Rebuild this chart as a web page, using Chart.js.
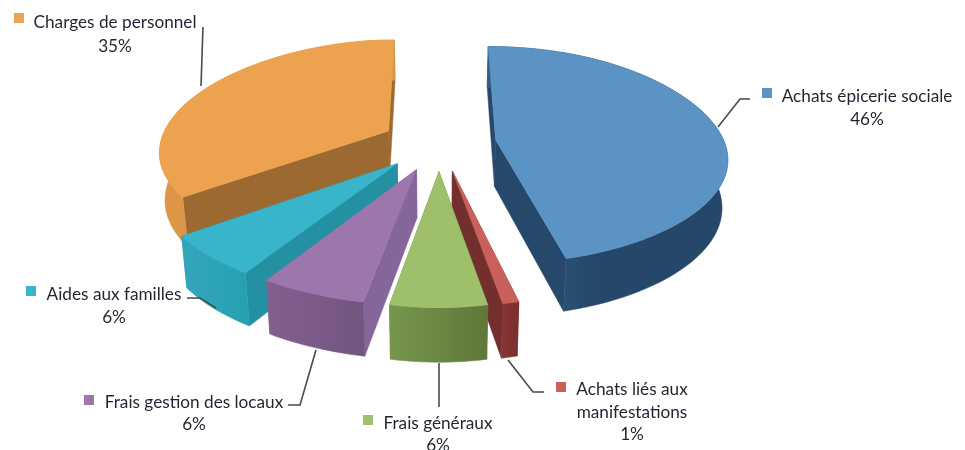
<!DOCTYPE html>
<html lang="fr">
<head>
    <meta charset="UTF-8">
    <title>Répartition des dépenses</title>
    <script src="https://cdn.jsdelivr.net/npm/chart.js"></script>
    <style>
        body, html { margin: 0; padding: 0; width: 965px; height: 450px; overflow: hidden; background: #fff; }
        canvas { filter: blur(0.6px); }
    </style>
</head>
<body>
    <canvas id="pie" width="965" height="450"></canvas>

    <script>
        const categories = ["Achats épicerie sociale", "Achats liés aux manifestations", "Frais généraux", "Frais gestion des locaux", "Aides aux familles", "Charges de personnel"];
        const percents = [46, 1, 6, 6, 6, 35];
        const explode = [0.25, 0.26, 0.26, 0.26, 0.26, 0.25];

        const topColors = ['#5b93c4', '#c9605c', '#9fc06b', '#9c77ad', '#38b4cb', '#eca24f'];
        const cutColors = ['#26496b', '#722f2d', '#617a3a', '#84669a', '#2491a3', '#9c6a30'];
        const wallLeft = ['#2f5f85', '#853534', '#76964d', '#80608f', '#33a6ba', '#dd9648'];
        const wallRight = ['#25486a', '#7a2f2e', '#5f7839', '#735582', '#27a0b2', '#dd9648'];

        // back to front
        const drawOrder = [5, 0, 1, 4, 3, 2];

        const labelBoxes = [
            { square: [762, 88], x: 867, lines: [96], pct: 119, leader: [[750, 99], [740, 99], [718, 127]] },
            { square: [556, 382], x: 632, lines: [389, 412], pct: 434, leader: [[508, 360], [533, 392], [544, 392]] },
            { square: [363, 415], x: 438, lines: [423], pct: 445, leader: [[439, 363], [439, 407]] },
            { square: [84, 395], x: 194, lines: [402], pct: 424, leader: [[288, 405], [300, 405], [316, 350]] },
            { square: [26, 286], x: 114, lines: [294], pct: 317, leader: [[187, 298], [200, 298], [216, 308]] },
            { square: [14, 13], x: 115, lines: [22], pct: 46, leader: [[203, 27], [201, 86]] }
        ];
        const wrapped = { "Achats liés aux manifestations": ["Achats liés aux", "manifestations"] };

        // tilted view of the pie plane, u to the right, v towards the viewer
        function project(u, v, low) {
            const ratio = 1 + v * (0.10 - 0.13 * Math.max(u, -0.6) + 0.18 * Math.max(0, u));
            let x = 439 + 229 * u * ratio + Math.min(v, 0);
            let y = 143 + (v < 0 ? 108 : 106) * v / (1 - 0.15 * v);
            if (low) {
                x = 439 + (x - 439) * 0.98;
                y += 47 + 6 * v;
            }
            return [x, y];
        }

        function polygon(ctx, pts) {
            ctx.beginPath();
            pts.forEach((p, i) => i ? ctx.lineTo(p[0], p[1]) : ctx.moveTo(p[0], p[1]));
            ctx.closePath();
        }

        function fillPoly(ctx, pts, color) {
            polygon(ctx, pts);
            ctx.fillStyle = color;
            ctx.strokeStyle = color;
            ctx.lineWidth = 0.5;
            ctx.fill();
            ctx.stroke();
        }

        function drawSlice(ctx, arc, i) {
            const start = arc.startAngle + Math.PI / 2;
            const end = arc.endAngle + Math.PI / 2;
            const mid = (start + end) / 2;
            const ou = explode[i] * Math.sin(mid);
            const ov = -explode[i] * Math.cos(mid);

            const rim = [];
            const steps = Math.max(2, Math.ceil((end - start) / 0.03));
            for (let s = 0; s <= steps; s++) {
                const a = start + (end - start) * s / steps;
                rim.push([ou + Math.sin(a), ov - Math.cos(a)]);
            }
            const top = rim.map(p => project(p[0], p[1], false));
            const low = rim.map(p => project(p[0], p[1], true));
            const apexTop = project(ou, ov, false);
            const apexLow = project(ou, ov, true);

            // cut faces first, the outer wall and the top cover what is hidden
            fillPoly(ctx, [apexTop, top[0], low[0], apexLow], cutColors[i]);
            fillPoly(ctx, [apexTop, top[steps], low[steps], apexLow], cutColors[i]);

            const xs = top.map(p => p[0]);
            const grad = ctx.createLinearGradient(Math.min(...xs), 0, Math.max(...xs), 0);
            grad.addColorStop(0, wallLeft[i]);
            if (i === 0) grad.addColorStop(0.45, wallRight[i]); // blue darkens fast
            grad.addColorStop(1, wallRight[i]);
            fillPoly(ctx, top.concat(low.slice().reverse()), grad);

            fillPoly(ctx, [apexTop].concat(top), topColors[i]);
        }

        function drawLabel(ctx, i) {
            const box = labelBoxes[i];
            ctx.beginPath();
            box.leader.forEach((p, k) => k ? ctx.lineTo(p[0], p[1]) : ctx.moveTo(p[0], p[1]));
            ctx.strokeStyle = '#4a4a4a';
            ctx.lineWidth = 1.6;
            ctx.stroke();

            ctx.fillStyle = topColors[i];
            ctx.fillRect(box.square[0], box.square[1], 10, 10);

            ctx.fillStyle = '#1f2430';
            ctx.font = '17.2px Lato';
            ctx.textAlign = 'center';
            ctx.textBaseline = 'middle';
            const lines = wrapped[categories[i]] || [categories[i]];
            lines.forEach((text, k) => ctx.fillText(text, box.x, box.lines[k]));
            ctx.fillText(percents[i] + '%', box.x, box.pct);
        }

        const pie3d = {
            id: 'pie3d',
            beforeDatasetDraw(chart) {
                const ctx = chart.ctx;
                const arcs = chart.getDatasetMeta(0).data;
                drawOrder.forEach(i => drawSlice(ctx, arcs[i], i));
                drawOrder.forEach(i => drawLabel(ctx, i));
                return false;
            }
        };

        new Chart(document.getElementById('pie'), {
            type: 'pie',
            data: {
                labels: categories,
                datasets: [{ data: percents, backgroundColor: topColors }]
            },
            options: {
                responsive: false,
                animation: false,
                rotation: 0,
                plugins: { legend: { display: false }, tooltip: { enabled: false } }
            },
            plugins: [pie3d]
        });
    </script>
</body>
</html>
